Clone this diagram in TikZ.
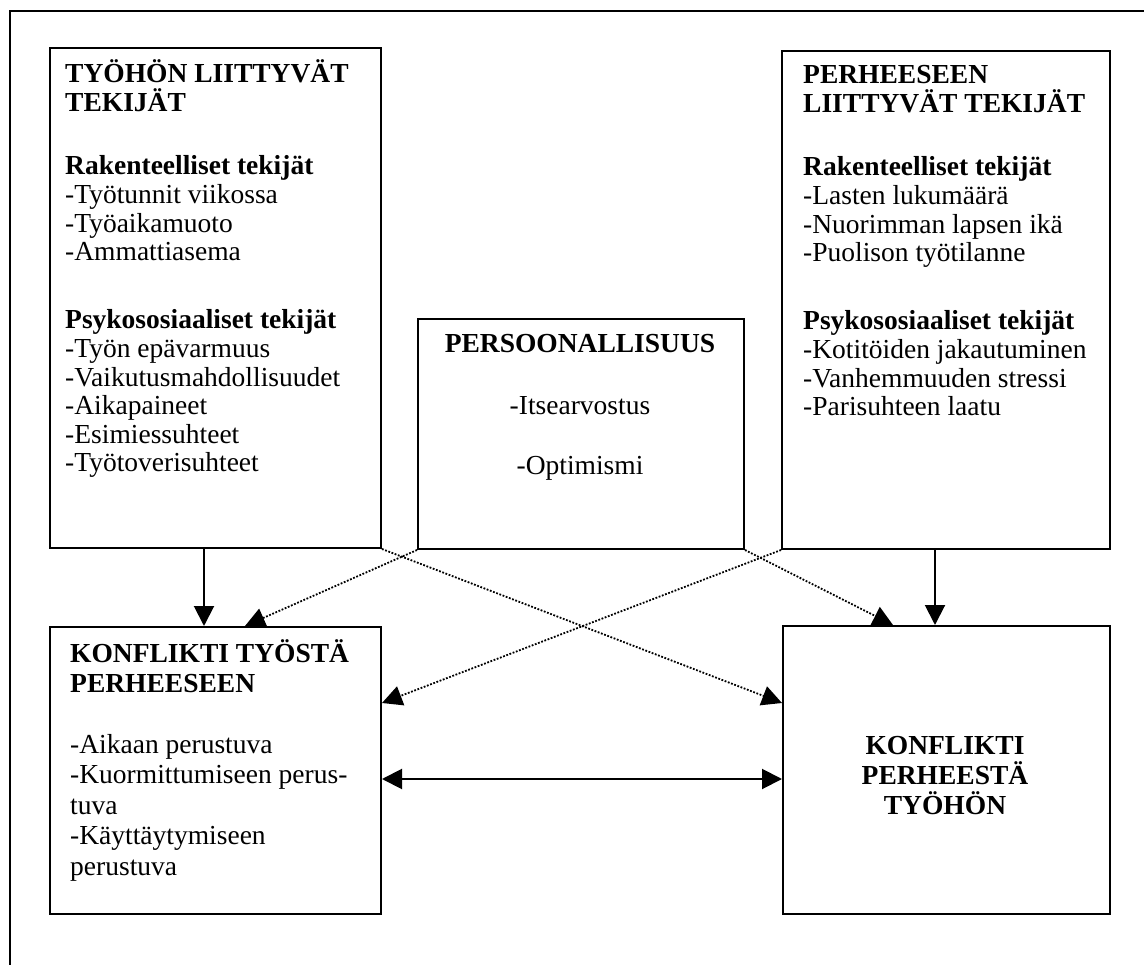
\documentclass[tikz,border=0pt]{standalone}
\usepackage{fontspec}
\setmainfont{Liberation Serif}
\usetikzlibrary{arrows.meta,calc}
\tikzset{
  box/.style={draw=black, line width=2pt, rectangle, inner sep=0pt, anchor=north west},
  txt/.style={anchor=base west, inner sep=0pt, font=\fontsize{27.5}{28.6}\selectfont},
  txtb/.style={anchor=base west, inner sep=0pt, font=\fontsize{27.5}{30.5}\selectfont},
  ctxt/.style={anchor=base, inner sep=0pt, font=\fontsize{27.5}{30}\selectfont},
  solidarr/.style={line width=2pt, -{Triangle[length=20pt,width=20pt]}},
  dualarr/.style={line width=2pt, {Triangle[length=20pt,width=20pt]}-{Triangle[length=20pt,width=20pt]}},
  dotarr/.style={line width=1.8pt, dash pattern=on 1.8pt off 1.6pt, -{Triangle[length=20pt,width=20pt]}},
  frame/.style={line width=1.6pt}
}
\newcommand{\lb}[1]{\parbox[t]{420pt}{\raggedright #1}}
\newcommand{\cb}[1]{\parbox[t]{420pt}{\centering #1}}
\begin{document}
\begin{tikzpicture}[x=1pt,y=-1pt]
\useasboundingbox (0,0) rectangle (1144,965);
% outer frame (top and left visible)
\coordinate (fa) at (10,965);
\coordinate (fb) at (10,11);
\coordinate (fc) at (1144,11);
\draw[frame] (fa) -- (fb) -- (fc);
% boxes
\node[box, minimum width=331pt, minimum height=500pt] (tl) at (49,47) {};
\node[box, minimum width=328pt, minimum height=498pt] (tr) at (781,50) {};
\node[box, minimum width=326pt, minimum height=230pt] (mid) at (417,318) {};
\node[box, minimum width=331pt, minimum height=287pt] (bl) at (49,626) {};
\node[box, minimum width=327pt, minimum height=288pt] (br) at (782,625) {};
% texts top-left
\node[txt] (tlh) at (65,83) {\lb{\bfseries TYÖHÖN LIITTYVÄT\\TEKIJÄT}};
\node[txt] (tlr) at (65,175) {\lb{\textbf{Rakenteelliset tekijät}\\-Työtunnit viikossa\\-Työaikamuoto\\-Ammattiasema}};
\node[txt] (tlp) at (65,329) {\lb{\textbf{Psykososiaaliset tekijät}\\-Työn epävarmuus\\-Vaikutusmahdollisuudet\\-Aikapaineet\\-Esimiessuhteet\\-Työtoverisuhteet}};
% texts top-right
\node[txt] (trh) at (803,84) {\lb{\bfseries PERHEESEEN\\LIITTYVÄT TEKIJÄT}};
\node[txt] (trr) at (803,176) {\lb{\textbf{Rakenteelliset tekijät}\\-Lasten lukumäärä\\-Nuorimman lapsen ikä\\-Puolison työtilanne}};
\node[txt] (trp) at (803,330) {\lb{\textbf{Psykososiaaliset tekijät}\\-Kotitöiden jakautuminen\\-Vanhemmuuden stressi\\-Parisuhteen laatu}};
% middle
\node[ctxt] (midh) at (580,353) {\textbf{PERSOONALLISUUS}};
\node[ctxt] (mida) at (580,415) {-Itsearvostus};
\node[ctxt] (midb) at (580,475) {-Optimismi};
% bottom-left
\node[txtb] (blh) at (70,662) {\lb{\bfseries KONFLIKTI TYÖSTÄ\\PERHEESEEN}};
\node[txtb] (bll) at (70,753) {\lb{-Aikaan perustuva\\-Kuormittumiseen perus-\\tuva\\-Käyttäytymiseen\\perustuva}};
% bottom-right
\node[ctxt] (brh) at (945,754) {\cb{\bfseries KONFLIKTI\\PERHEESTÄ\\TYÖHÖN}};
% connectors
\draw[solidarr] ($(tl.south west)+(155,0)$) -- ($(bl.north west)+(155,0)$);
\draw[solidarr] ($(tr.south west)+(154,0)$) -- ($(br.north west)+(153,0)$);
\draw[dotarr] (mid.south west) -- ($(bl.north west)+(196,0)$);
\draw[dotarr] (tl.south east) -- ($(br.north west)+(0,78)$);
\draw[dotarr] (tr.south west) -- ($(bl.north east)+(0,77)$);
\draw[dotarr] (mid.south east) -- ($(br.north west)+(111,0)$);
\draw[dualarr] ($(bl.north east)+(0,153)$) -- ($(br.north west)+(0,154)$);
\end{tikzpicture}
\end{document}
